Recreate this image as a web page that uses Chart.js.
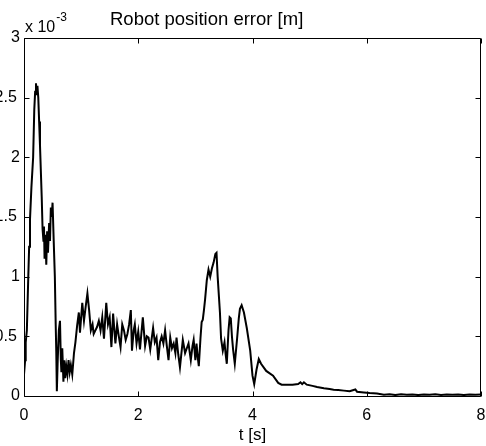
<!DOCTYPE html>
<html><head><meta charset="utf-8">
<script src="https://cdn.jsdelivr.net/npm/chart.js@4.4.1/dist/chart.umd.min.js"></script>
<style>html,body{margin:0;padding:0;background:#fff;overflow:hidden}canvas{display:block}</style>
</head><body>
<canvas id="c" width="486" height="446"></canvas>
<script>
// time [s]
const timeSeconds = [
0.00,0.02,0.03,0.05,0.075,0.09,0.105,0.13,0.16,0.18,0.195,0.21,0.22,0.235,0.25,0.265,0.28,0.31,0.325,0.34,
0.35,0.36,0.375,0.39,0.405,0.42,0.44,0.455,0.47,0.485,0.50,0.52,0.54,0.555,0.565,0.575,0.59,0.61,0.63,0.645,
0.655,0.67,0.69,0.705,0.72,0.74,0.76,0.78,0.80,0.82,0.845,0.875,0.90,0.93,0.96,0.98,1.02,1.05,1.08,1.11,
1.14,1.17,1.20,1.22,1.25,1.28,1.31,1.34,1.37,1.40,1.44,1.47,1.50,1.53,1.56,1.60,1.63,1.66,1.69,1.72,
1.75,1.78,1.81,1.84,1.87,1.89,1.92,1.94,1.97,2.00,2.03,2.08,2.12,2.15,2.18,2.21,2.26,2.29,2.32,2.35,
2.38,2.41,2.44,2.47,2.50,2.53,2.56,2.59,2.62,2.65,2.67,2.70,2.73,2.78,2.82,2.85,2.88,2.92,2.95,2.97,
3.00,3.02,3.04,3.06,3.09,3.11,3.13,3.15,3.17,3.20,3.23,3.26,3.29,3.32,3.35,3.37,3.39,3.43,3.45,3.48,
3.51,3.53,3.55,3.58,3.60,3.62,3.64,3.66,3.69,3.73,3.76,3.78,3.81,3.85,3.90,3.96,4.00,4.03,4.07,4.11,
4.15,4.24,4.36,4.45,4.51,4.60,4.70,4.80,4.84,4.87,4.90,4.95,5.05,5.13,5.25,5.35,5.42,5.50,5.60,5.70,
5.80,5.83,5.95,6.05,6.18,6.30,6.40,6.50,6.60,6.70,6.80,6.90,7.00,7.10,7.20,7.30,7.40,7.50,7.60,7.70,
7.80,7.90,8.00
];
// position error [x 10^-3 m]
const positionError = [
0.18,0.30,0.45,0.55,1.00,1.25,1.48,1.75,2.00,2.40,2.55,2.62,2.52,2.60,2.50,2.30,2.10,1.67,1.40,1.30,
1.42,1.15,1.35,1.10,1.38,1.20,1.45,1.30,1.58,1.50,1.62,1.30,1.00,0.60,0.37,0.04,0.30,0.55,0.63,0.30,
0.20,0.40,0.12,0.30,0.15,0.25,0.18,0.30,0.20,0.26,0.18,0.36,0.45,0.59,0.70,0.53,0.78,0.63,0.75,0.86,
0.72,0.55,0.60,0.52,0.55,0.58,0.63,0.55,0.66,0.48,0.78,0.60,0.66,0.41,0.69,0.44,0.60,0.50,0.41,0.60,
0.55,0.47,0.52,0.60,0.72,0.38,0.55,0.60,0.44,0.54,0.39,0.66,0.42,0.50,0.49,0.39,0.57,0.45,0.49,0.30,
0.45,0.50,0.44,0.55,0.42,0.30,0.49,0.40,0.44,0.36,0.49,0.35,0.24,0.47,0.36,0.40,0.44,0.30,0.42,0.47,
0.30,0.44,0.33,0.25,0.49,0.62,0.64,0.72,0.81,0.97,1.06,1.00,1.07,1.12,1.19,1.20,1.00,0.70,0.48,0.38,
0.45,0.35,0.27,0.55,0.66,0.65,0.50,0.39,0.27,0.48,0.65,0.73,0.76,0.70,0.57,0.38,0.17,0.10,0.22,0.31,
0.27,0.21,0.17,0.11,0.095,0.095,0.095,0.10,0.115,0.10,0.115,0.095,0.085,0.075,0.065,0.058,0.053,0.050,0.045,0.040,
0.055,0.036,0.030,0.025,0.020,0.010,0.015,0.008,0.015,0.010,0.012,0.008,0.013,0.010,0.014,0.009,0.012,0.010,0.013,0.008,
0.012,0.010,0.012
];
const xTicks = [0, 2, 4, 6, 8];
const yTicks = [0, 0.5, 1, 1.5, 2, 2.5, 3];
const titleText = 'Robot position error [m]';
const xLabelText = 't [s]';
const yScaleBase = 'x 10';
const yScaleExp = '-3';

const FONT = '"Liberation Sans", Arial, Helvetica, sans-serif';

const points = timeSeconds.map((t, i) => ({x: t, y: positionError[i]}));

const frame = {
  id: 'frame',
  afterDraw(chart) {
    const {ctx, chartArea: a, scales} = chart;
    ctx.save();
    ctx.strokeStyle = '#000';
    ctx.lineWidth = 1;
    const L = Math.round(a.left) + 0.5, R = Math.round(a.right) - 0.5;
    const T = Math.round(a.top) + 0.5, B = Math.round(a.bottom) + 0.5;
    ctx.beginPath();
    ctx.rect(L, T, R - L, B - T);
    ctx.stroke();
    const tl = 5;
    ctx.beginPath();
    xTicks.forEach(v => {
      const px = Math.round(scales.x.getPixelForValue(v)) + 0.5;
      ctx.moveTo(px, B); ctx.lineTo(px, B - tl);
      ctx.moveTo(px, T); ctx.lineTo(px, T + tl);
    });
    yTicks.forEach(v => {
      const py = Math.round(scales.y.getPixelForValue(v)) + 0.5;
      ctx.moveTo(L, py); ctx.lineTo(L + tl, py);
      ctx.moveTo(R, py); ctx.lineTo(R - tl, py);
    });
    ctx.stroke();

    ctx.fillStyle = '#000';
    ctx.textBaseline = 'alphabetic';
    ctx.textAlign = 'left';
    ctx.font = '18.5px ' + FONT;
    ctx.fillText(titleText, 110, 25);
    ctx.font = '16px ' + FONT;
    ctx.fillText(yScaleBase, 25, 32);
    const w = ctx.measureText(yScaleBase).width;
    ctx.font = '12px ' + FONT;
    ctx.fillText(yScaleExp, 25 + w + 1, 21);
    ctx.textAlign = 'center';
    ctx.font = '17px ' + FONT;
    ctx.fillText(xLabelText, (a.left + a.right) / 2, 440);
    ctx.restore();
  }
};

new Chart(document.getElementById('c'), {
  type: 'line',
  data: {
    datasets: [{
      data: points,
      borderColor: '#000',
      borderWidth: 2,
      pointRadius: 0,
      tension: 0,
      fill: false
    }]
  },
  options: {
    responsive: false,
    animation: false,
    events: [],
    layout: {padding: {top: 38, right: 5, left: 0, bottom: 0}},
    plugins: {legend: {display: false}, tooltip: {enabled: false}, title: {display: false}},
    scales: {
      x: {
        type: 'linear', min: 0, max: 8,
        afterBuildTicks: s => { s.ticks = xTicks.map(v => ({value: v})); },
        afterFit: s => { s.height = 50; s.paddingLeft = 0; s.paddingRight = 0; },
        grid: {display: false, drawTicks: false},
        border: {display: false},
        ticks: {color: '#000', padding: 10, font: {family: FONT, size: 16}, maxRotation: 0,
                callback: v => String(v)}
      },
      y: {
        type: 'linear', min: 0, max: 3,
        afterBuildTicks: s => { s.ticks = yTicks.map(v => ({value: v})); },
        afterFit: s => { s.width = 24; s.paddingTop = 0; s.paddingBottom = 0; },
        grid: {display: false, drawTicks: false},
        border: {display: false},
        ticks: {color: '#000', padding: 4, font: {family: FONT, size: 16},
                callback: v => Number.isInteger(v) ? String(v) : String(v) + '\u2009'}
      }
    }
  },
  plugins: [frame]
});
</script>
</body></html>
